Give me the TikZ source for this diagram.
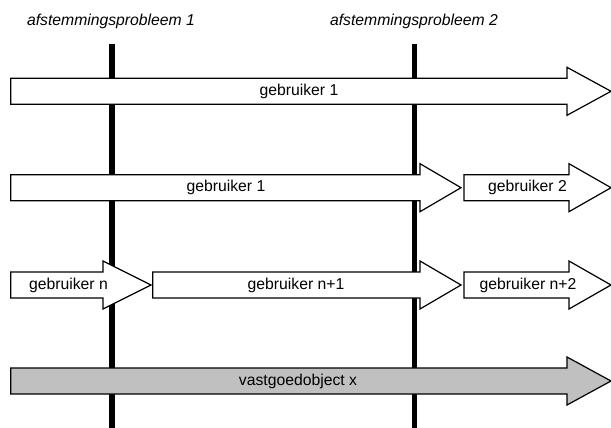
\documentclass[tikz,border=0pt]{standalone}
\usepackage{fontspec}
\setmainfont{Liberation Sans}
\begin{document}
\begin{tikzpicture}[x=0.75pt,y=-0.75pt,
  arrowbox/.style={draw=black,line width=0.9pt,fill=white,line join=miter},
  objbox/.style={arrowbox,fill=objgrey},
  divider/.style={line width=3.9pt,draw=black},
  label/.style={font=\fontsize{11.8}{14}\selectfont,inner sep=0pt},
  title/.style={font=\fontsize{11.8}{14}\selectfont\itshape,inner sep=0pt}]
\definecolor{objgrey}{HTML}{C0C0C0}
\useasboundingbox (0,0) rectangle (611,428);
% block arrow: style, centre y, left x, head base x, tip x
\newcommand\blockarrow[5]{%
  \path[#1] (#3,#2-13) -- (#4,#2-13) -- (#4,#2-24) -- (#5,#2)
    -- (#4,#2+24) -- (#4,#2+13) -- (#3,#2+13) -- cycle;}
% phase dividers
\coordinate (d1top) at (112,44);
\coordinate (d1bot) at (112,428);
\coordinate (d2top) at (414.5,44);
\coordinate (d2bot) at (414.5,428);
\draw[divider] (d1top) -- (d1bot);
\draw[divider] (d2top) -- (d2bot);
\node[title] (p1) at (111,21) {afstemmingsprobleem 1};
\node[title] (p2) at (414,21) {afstemmingsprobleem 2};
% row 1
\blockarrow{arrowbox}{91.3}{10.7}{567}{611}
\node[label] (r1a) at (299,91.3) {gebruiker 1};
% row 2
\blockarrow{arrowbox}{187.7}{10.7}{420}{461}
\blockarrow{arrowbox}{187.7}{464}{569}{611}
\node[label] (r2a) at (226,187.7) {gebruiker 1};
\node[label] (r2b) at (527.5,187.7) {gebruiker 2};
% row 3
\blockarrow{arrowbox}{285}{10.7}{103}{151}
\blockarrow{arrowbox}{285}{152.7}{420}{461}
\blockarrow{arrowbox}{285}{464}{569}{611}
\node[label] (r3a) at (68.5,285) {gebruiker n};
\node[label] (r3b) at (296,285) {gebruiker n+1};
\node[label] (r3c) at (528,285) {gebruiker n+2};
% row 4: the property itself
\blockarrow{objbox}{381}{10.7}{567}{611}
\node[label] (r4a) at (298,381) {vastgoedobject x};
\end{tikzpicture}
\end{document}
